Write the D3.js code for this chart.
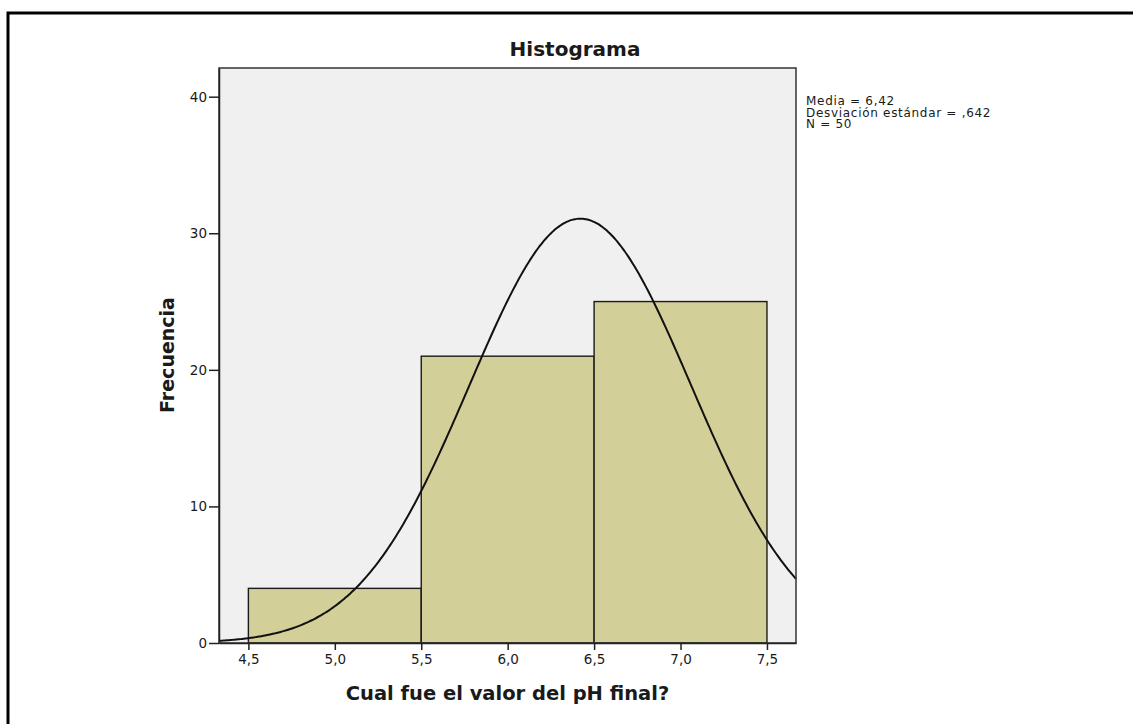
<!DOCTYPE html>
<html>
<head>
<meta charset="utf-8">
<script src="https://cdn.jsdelivr.net/npm/d3@7"></script>
<style>
  html, body { margin: 0; padding: 0; background: #fff; }
  svg { display: block; }
  text { font-family: "DejaVu Sans", Verdana, sans-serif; fill: #1a1a1a; }
</style>
</head>
<body>
<svg id="chart" width="1133" height="724"></svg>
<script>
// Histogram bins of the final pH readings
const binStarts = [4.5, 5.5, 6.5];
const binEnds   = [5.5, 6.5, 7.5];
const counts    = [4, 21, 25];

// Axis ticks
const xTicks = [4.5, 5.0, 5.5, 6.0, 6.5, 7.0, 7.5];
const yTicks = [0, 10, 20, 30, 40];

// Summary statistics shown beside the plot
const mean = 6.42;
const sd = 0.642;
const n = 50;
const statsLines = ["Media = 6,42", "Desviación estándar = ,642", "N = 50"];

const svg = d3.select("#chart");
const plot = { left: 219, right: 796, top: 68, bottom: 643 };

// Outer frame (top and left edges)
svg.append("path")
  .attr("d", "M8,724 L8,13 L1133,13")
  .attr("fill", "none")
  .attr("stroke", "#000")
  .attr("stroke-width", 3);

const x = d3.scaleLinear().domain([4.33, 7.668]).range([plot.left, plot.right]);
const y = d3.scaleLinear().domain([0, 42.1]).range([plot.bottom, plot.top]);

// Plot background
svg.append("rect")
  .attr("x", plot.left).attr("y", plot.top)
  .attr("width", plot.right - plot.left).attr("height", plot.bottom - plot.top)
  .attr("fill", "#f0f0f0");

// Bars
const bins = counts.map((c, i) => ({ x0: binStarts[i], x1: binEnds[i], count: c }));
svg.append("g").selectAll("rect")
  .data(bins)
  .join("rect")
  .attr("x", d => x(d.x0))
  .attr("y", d => y(d.count))
  .attr("width", d => x(d.x1) - x(d.x0))
  .attr("height", d => y(0) - y(d.count))
  .attr("fill", "#d3cf99")
  .attr("stroke", "#1a1a1a")
  .attr("stroke-width", 1.4);

// Fitted normal curve scaled to counts (bin width 1)
const binWidth = 1;
const pdf = v => Math.exp(-0.5 * ((v - mean) / sd) ** 2) / (sd * Math.sqrt(2 * Math.PI));
const curvePts = d3.range(0, 301).map(i => {
  const v = x.domain()[0] + (x.domain()[1] - x.domain()[0]) * i / 300;
  return [v, n * binWidth * pdf(v)];
});
svg.append("path")
  .datum(curvePts)
  .attr("fill", "none")
  .attr("stroke", "#111")
  .attr("stroke-width", 2)
  .attr("d", d3.line().x(d => x(d[0])).y(d => y(d[1])).curve(d3.curveBasis));

// Plot frame
svg.append("rect")
  .attr("x", plot.left).attr("y", plot.top)
  .attr("width", plot.right - plot.left).attr("height", plot.bottom - plot.top)
  .attr("fill", "none")
  .attr("stroke", "#333")
  .attr("stroke-width", 1.5);

// Axes
const fmt = d => d3.format(".1f")(d).replace(".", ",");
const xAxis = svg.append("g")
  .attr("transform", `translate(0,${plot.bottom})`)
  .call(d3.axisBottom(x).tickValues(xTicks).tickFormat(fmt).tickSize(7).tickSizeOuter(0).tickPadding(4));
const yAxis = svg.append("g")
  .attr("transform", `translate(${plot.left},0)`)
  .call(d3.axisLeft(y).tickValues(yTicks).tickFormat(d3.format("d")).tickSize(10).tickSizeOuter(0).tickPadding(2));

[xAxis, yAxis].forEach(g => {
  g.select(".domain").attr("stroke", "#222").attr("stroke-width", 1.5);
  g.selectAll(".tick line").attr("stroke", "#222").attr("stroke-width", 1.5);
  g.selectAll(".tick text")
    .style("font-family", "'DejaVu Sans', Verdana, sans-serif")
    .style("font-size", "13.5px")
    .attr("fill", "#1a1a1a");
});

// Title
svg.append("text")
  .attr("x", 575)
  .attr("y", 56)
  .attr("text-anchor", "middle")
  .style("font-size", "20px")
  .style("font-weight", "bold")
  .text("Histograma");

// Axis titles
svg.append("text")
  .attr("x", (plot.left + plot.right) / 2)
  .attr("y", 700)
  .attr("text-anchor", "middle")
  .style("font-size", "19.5px")
  .style("font-weight", "bold")
  .text("Cual fue el valor del pH final?");

svg.append("text")
  .attr("transform", `translate(174,355) rotate(-90)`)
  .attr("text-anchor", "middle")
  .style("font-size", "19px")
  .style("font-weight", "bold")
  .text("Frecuencia");

// Summary statistics
svg.append("g").selectAll("text")
  .data(statsLines)
  .join("text")
  .attr("x", 806)
  .attr("y", (d, i) => 105 + i * 11.5)
  .style("font-size", "12px")
  .style("letter-spacing", "0.7px")
  .text(d => d);
</script>
</body>
</html>
